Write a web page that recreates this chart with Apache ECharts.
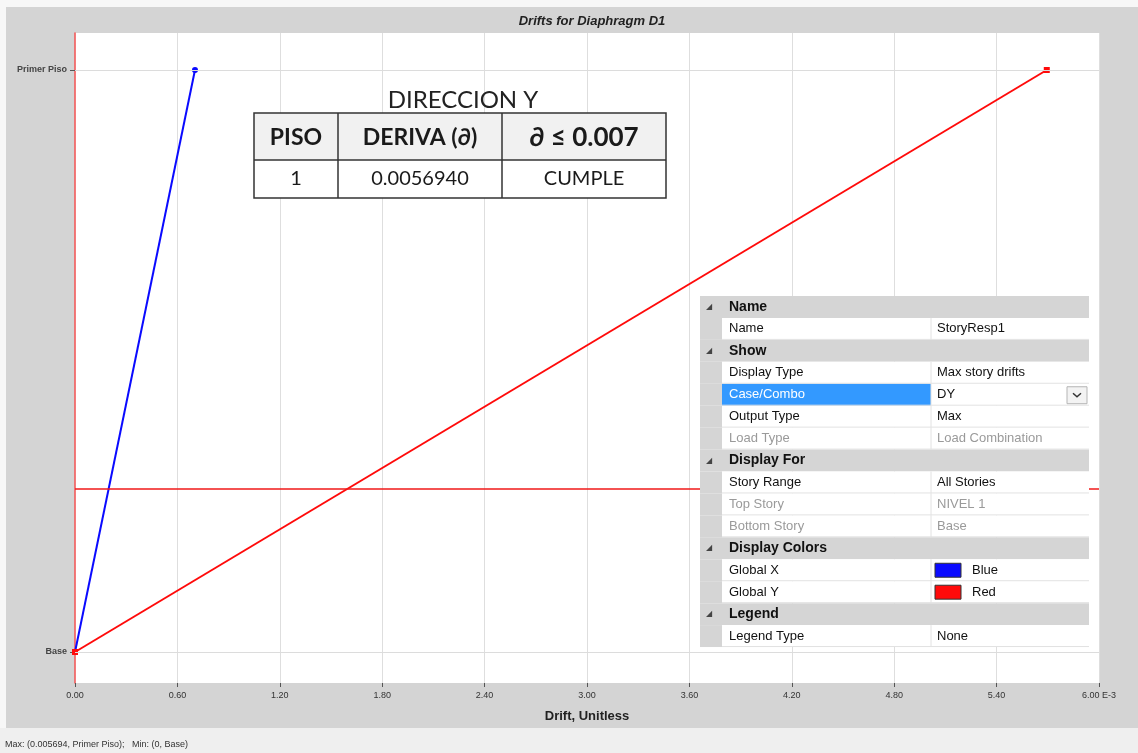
<!DOCTYPE html>
<html>
<head>
<meta charset="utf-8">
<script src="https://cdn.jsdelivr.net/npm/echarts@6/dist/echarts.min.js"></script>
<style>
  html, body { margin: 0; padding: 0; background: #f7f7f7; }
  #chart { width: 1138px; height: 753px; }
</style>
</head>
<body>
<div id="chart"></div>
<script>
// Story levels and maximum story drifts (Global X / Global Y)
const stories = ['Base', 'Primer Piso'];
const driftGlobalX = [0, 0.000703];
const driftGlobalY = [0, 0.005694];
const xTickLabels = ['0.00', '0.60', '1.20', '1.80', '2.40', '3.00', '3.60', '4.20', '4.80', '5.40', '6.00 E-3'];
const cursorLevel = 0.28;

// Summary table
const tableTitle = 'DIRECCION Y';
const tableHeader = ['PISO', 'DERIVA (\u2202)', '\u2202 \u2264 0.007'];
const tableRow = ['1', driftGlobalY[1].toFixed(7), 'CUMPLE'];

// Property grid rows: one entry = category header, two entries = property/value
const panelRows = [
  ['Name'],
  ['Name', 'StoryResp1'],
  ['Show'],
  ['Display Type', 'Max story drifts'],
  ['Case/Combo', 'DY'],
  ['Output Type', 'Max'],
  ['Load Type', 'Load Combination'],
  ['Display For'],
  ['Story Range', 'All Stories'],
  ['Top Story', 'NIVEL 1'],
  ['Bottom Story', 'Base'],
  ['Display Colors'],
  ['Global X', 'Blue'],
  ['Global Y', 'Red'],
  ['Legend'],
  ['Legend Type', 'None']
];
const dimmedProps = ['Load Type', 'Top Story', 'Bottom Story'];
const selectedProp = 'Case/Combo';

const COLOR_X = '#0a0aff';
const COLOR_Y = '#ff0a0a';
const swatch = { 'Global X': COLOR_X, 'Global Y': COLOR_Y };

const X_STEP = 0.0006;
const chart = echarts.init(document.getElementById('chart'), null, { renderer: 'canvas' });

// ---- overlay graphics ----
const g = [];
// window frame pieces outside the plot
g.push({ type: 'rect', shape: { x: 0, y: 0, width: 1138, height: 7 }, style: { fill: '#f7f7f7' }, silent: true });
g.push({ type: 'rect', shape: { x: 0, y: 0, width: 6, height: 728 }, style: { fill: '#f7f7f7' }, silent: true });
g.push({ type: 'rect', shape: { x: 0, y: 728, width: 1138, height: 25 }, style: { fill: '#efefef' }, silent: true });
g.push({
  type: 'text', silent: true,
  style: {
    x: 5, y: 745,
    text: 'Max: (' + driftGlobalY[1] + ', ' + stories[1] + ');   Min: (' + driftGlobalY[0] + ', ' + stories[0] + ')',
    font: '9px "Liberation Sans", Arial, sans-serif', fill: '#333', verticalAlign: 'middle'
  }
});

// summary table
const T = { x0: 254, x1: 666, cols: [254, 338, 502, 666], y0: 113, y1: 160, y2: 198 };
const tFont = '"Lato", "Open Sans", "Noto Sans", sans-serif';
g.push({
  type: 'text', z: 50, silent: true,
  style: { x: 463, y: 100, text: tableTitle, font: '24px ' + tFont, fill: '#222', align: 'center', verticalAlign: 'middle' }
});
g.push({ type: 'rect', z: 50, silent: true, shape: { x: T.x0, y: T.y0, width: T.x1 - T.x0, height: T.y1 - T.y0 }, style: { fill: '#f1f1f1' } });
g.push({ type: 'rect', z: 50, silent: true, shape: { x: T.x0, y: T.y1, width: T.x1 - T.x0, height: T.y2 - T.y1 }, style: { fill: '#ffffff' } });
g.push({ type: 'rect', z: 51, silent: true, shape: { x: T.x0, y: T.y0, width: T.x1 - T.x0, height: T.y2 - T.y0 }, style: { fill: 'none', stroke: '#333', lineWidth: 1.5 } });
g.push({ type: 'line', z: 51, silent: true, shape: { x1: T.x0, y1: T.y1, x2: T.x1, y2: T.y1 }, style: { stroke: '#333', lineWidth: 1.5 } });
[T.cols[1], T.cols[2]].forEach(function (cx) {
  g.push({ type: 'line', z: 51, silent: true, shape: { x1: cx, y1: T.y0, x2: cx, y2: T.y2 }, style: { stroke: '#333', lineWidth: 1.5 } });
});
const headFonts = ['bold 23px ' + tFont, 'bold 23px ' + tFont, 'bold 26px ' + tFont];
tableHeader.forEach(function (t, i) {
  g.push({
    type: 'text', z: 52, silent: true,
    style: { x: (T.cols[i] + T.cols[i + 1]) / 2, y: (T.y0 + T.y1) / 2 + 1, text: t, font: headFonts[i], fill: '#1a1a1a', align: 'center', verticalAlign: 'middle' }
  });
});
tableRow.forEach(function (t, i) {
  g.push({
    type: 'text', z: 52, silent: true,
    style: { x: (T.cols[i] + T.cols[i + 1]) / 2, y: (T.y1 + T.y2) / 2, text: t, font: '20px ' + tFont, fill: '#1a1a1a', align: 'center', verticalAlign: 'middle' }
  });
});

// property grid
const P = { x0: 700, x1: 1089, gut: 722, div: 931, top: 296, rh: 21.94 };
const gridFont = '13px "Liberation Sans", Arial, sans-serif';
panelRows.forEach(function (row, i) {
  const y = P.top + i * P.rh;
  const cy = y + P.rh / 2;
  if (row.length === 1) {
    g.push({ type: 'rect', z: 60, silent: true, shape: { x: P.x0, y: y, width: P.x1 - P.x0, height: P.rh }, style: { fill: '#d5d5d5' } });
    g.push({ type: 'text', z: 61, silent: true, style: { x: 709, y: cy, text: '\u25E2', font: '8px "DejaVu Sans", sans-serif', fill: '#444', align: 'center', verticalAlign: 'middle' } });
    g.push({ type: 'text', z: 61, silent: true, style: { x: 729, y: cy, text: row[0], font: 'bold 14px "Liberation Sans", Arial, sans-serif', fill: '#111', verticalAlign: 'middle' } });
    return;
  }
  const name = row[0], val = row[1];
  const dim = dimmedProps.indexOf(name) >= 0;
  const sel = name === selectedProp;
  g.push({ type: 'rect', z: 60, silent: true, shape: { x: P.x0, y: y, width: P.gut - P.x0, height: P.rh }, style: { fill: '#d5d5d5' } });
  g.push({ type: 'rect', z: 60, silent: true, shape: { x: P.gut, y: y, width: P.x1 - P.gut, height: P.rh }, style: { fill: '#ffffff' } });
  if (sel) {
    g.push({ type: 'rect', z: 60, silent: true, shape: { x: P.gut, y: y, width: P.div - P.gut, height: P.rh }, style: { fill: '#3399ff' } });
  }
  g.push({ type: 'line', z: 61, silent: true, shape: { x1: P.gut, y1: y + P.rh - 0.5, x2: P.x1, y2: y + P.rh - 0.5 }, style: { stroke: '#e2e2e2', lineWidth: 1 } });
  g.push({ type: 'line', z: 61, silent: true, shape: { x1: P.div, y1: y, x2: P.div, y2: y + P.rh }, style: { stroke: '#e2e2e2', lineWidth: 1 } });
  g.push({
    type: 'text', z: 62, silent: true,
    style: { x: 729, y: cy, text: name, font: gridFont, fill: sel ? '#ffffff' : (dim ? '#9a9a9a' : '#111'), verticalAlign: 'middle' }
  });
  let vx = 937;
  if (swatch[name]) {
    g.push({ type: 'rect', z: 62, silent: true, shape: { x: 935, y: y + 4, width: 26, height: P.rh - 8 }, style: { fill: swatch[name], stroke: '#333', lineWidth: 1 } });
    vx = 972;
  }
  g.push({
    type: 'text', z: 62, silent: true,
    style: { x: vx, y: cy, text: val, font: gridFont, fill: dim ? '#9a9a9a' : '#111', verticalAlign: 'middle' }
  });
  if (sel) {
    g.push({ type: 'rect', z: 62, silent: true, shape: { x: 1067, y: y + 3, width: 20, height: P.rh - 5 }, style: { fill: '#f3f3f3', stroke: '#b5b5b5', lineWidth: 1 } });
    g.push({ type: 'polyline', z: 63, silent: true, shape: { points: [[1073, cy - 1.5], [1077, cy + 2], [1081, cy - 1.5]] }, style: { stroke: '#333', lineWidth: 1.5, fill: 'none' } });
  }
});

const option = {
  animation: false,
  backgroundColor: '#d4d4d4',
  title: {
    text: 'Drifts for Diaphragm D1',
    left: 587, top: 10, textAlign: 'center',
    textStyle: { fontFamily: '"Liberation Sans", Arial, sans-serif', fontSize: 13, fontWeight: 'bold', fontStyle: 'italic', color: '#222' }
  },
  grid: {
    left: 75, right: 39, top: 33, bottom: 70,
    show: true, backgroundColor: '#ffffff', borderWidth: 0
  },
  xAxis: {
    type: 'value', min: 0, max: 0.006, interval: X_STEP,
    name: 'Drift, Unitless', nameLocation: 'middle', nameGap: 27,
    nameTextStyle: { fontFamily: '"Liberation Sans", Arial, sans-serif', fontSize: 13, fontWeight: 'bold', color: '#222' },
    axisLine: { show: false, onZero: false },
    axisTick: { show: true, length: 4, lineStyle: { color: '#555' } },
    axisLabel: {
      margin: 8, fontSize: 9, color: '#333', fontFamily: '"Liberation Sans", Arial, sans-serif',
      formatter: function (v) { return xTickLabels[Math.round(v / X_STEP)]; }
    },
    splitLine: { show: true, showMinLine: false, lineStyle: { color: '#dedede', width: 1 } }
  },
  yAxis: {
    type: 'value', min: -0.05326, max: 1.06357,
    axisLine: { show: true, onZero: false, lineStyle: { color: '#f25a5a', width: 1.6 } },
    axisTick: { show: true, customValues: [0, 1], length: 5, lineStyle: { color: '#555' } },
    axisLabel: {
      customValues: [0, 1], margin: 8, fontSize: 9, fontWeight: 'bold', color: '#444',
      fontFamily: '"Liberation Sans", Arial, sans-serif',
      formatter: function (v) { return stories[Math.round(v)]; }
    },
    splitLine: { show: false }
  },
  series: [
    {
      // horizontal story grid lines
      name: 'storyGrid', type: 'line', z: 1, data: [], silent: true,
      markLine: {
        silent: true, symbol: 'none', label: { show: false },
        lineStyle: { color: '#dcdcdc', width: 1, type: 'solid' },
        data: stories.map(function (s, i) { return { yAxis: i }; })
      }
    },
    {
      name: 'Global X', type: 'line', z: 3,
      data: stories.map(function (s, i) { return [driftGlobalX[i], i]; }),
      lineStyle: { color: COLOR_X, width: 2 },
      itemStyle: { color: COLOR_X },
      symbol: 'circle', symbolSize: 6, showSymbol: true
    },
    {
      name: 'Global Y', type: 'line', z: 4,
      data: stories.map(function (s, i) { return [driftGlobalY[i], i]; }),
      lineStyle: { color: COLOR_Y, width: 2 },
      itemStyle: { color: COLOR_Y },
      symbol: 'rect', symbolSize: 6, showSymbol: true,
      markLine: {
        silent: true, symbol: 'none', label: { show: false },
        data: [{ yAxis: cursorLevel, lineStyle: { color: '#f01818', width: 1.6, type: 'solid', opacity: 1 } }]
      }
    }
  ],
  graphic: g
};
chart.setOption(option);
</script>
</body>
</html>
